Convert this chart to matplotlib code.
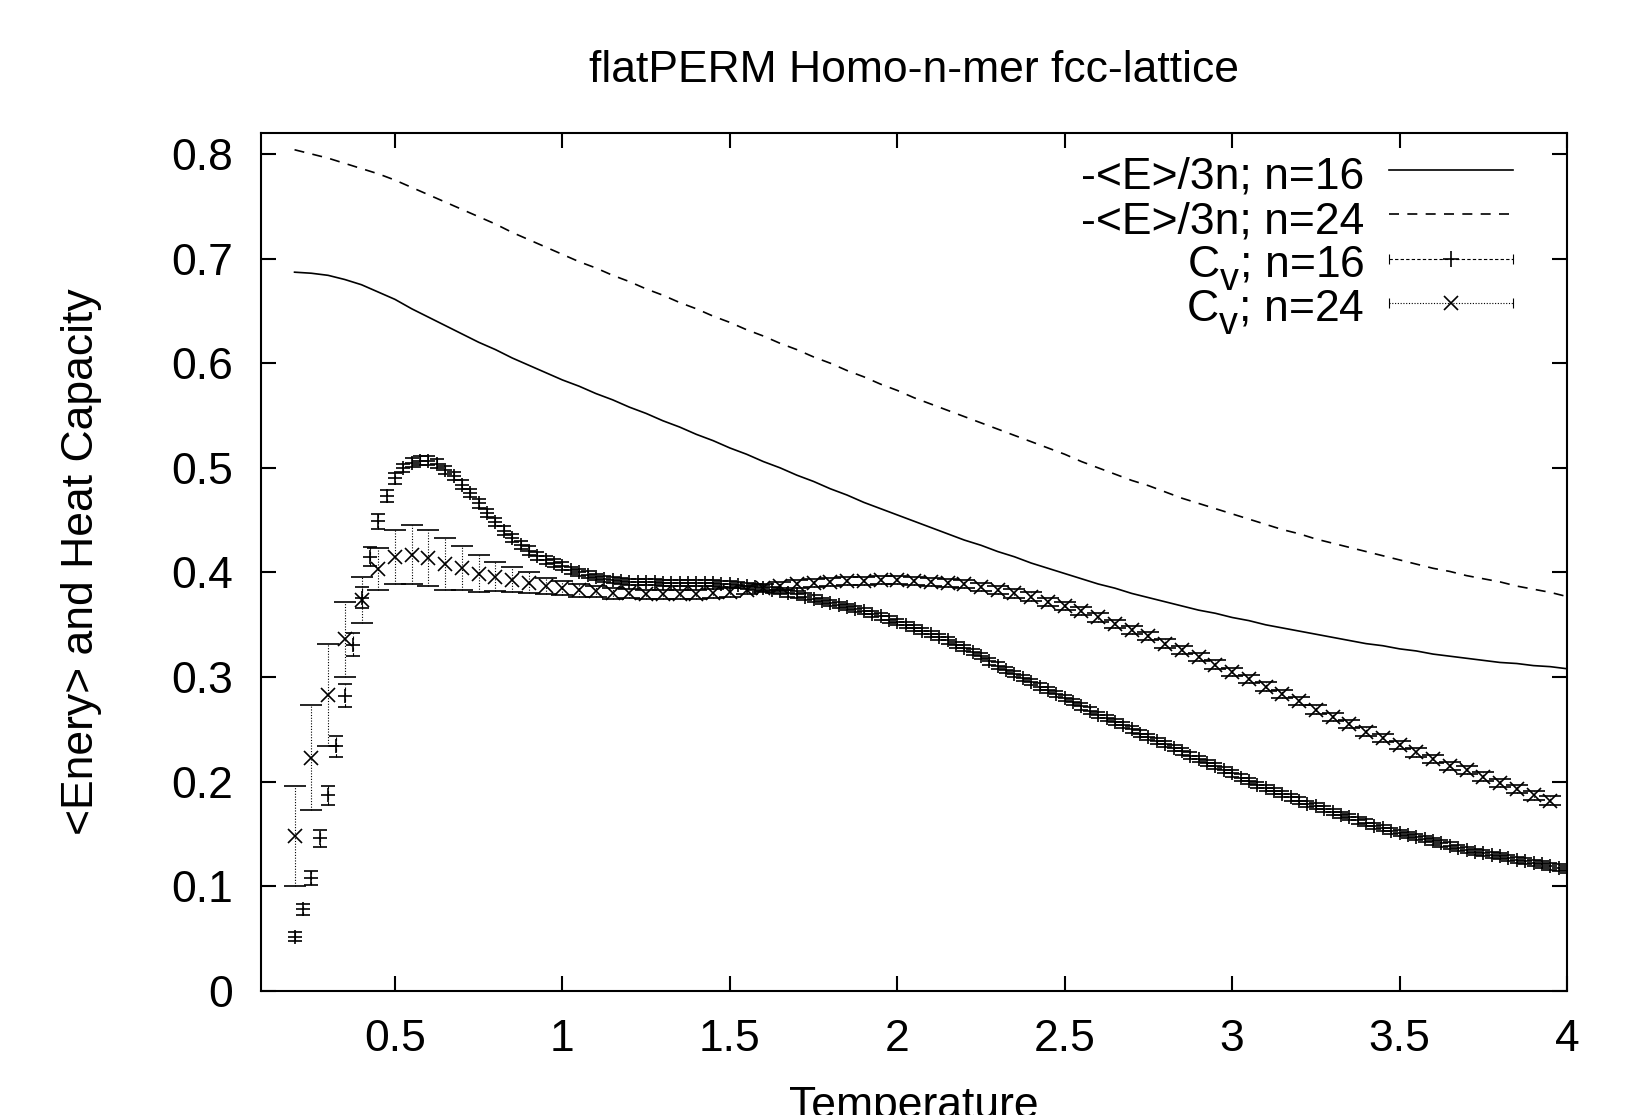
import numpy as np
import matplotlib
matplotlib.use("Agg")
import matplotlib.pyplot as plt
import matplotlib._mathtext as mathtext_internals
from matplotlib.lines import Line2D
from matplotlib.legend_handler import HandlerBase
from matplotlib.ticker import MultipleLocator, FormatStrFormatter

# temperature grids of the runs
temp_e = np.linspace(0.2, 4.0, 77)     # energy curves, step 0.05
temp16 = np.linspace(0.2, 4.0, 153)    # Cv n=16, step 0.025
temp24 = np.linspace(0.2, 3.95, 76)    # Cv n=24, step 0.05

# -<E>/3n
energy16 = [0.687, 0.686, 0.684, 0.680, 0.675, 0.668, 0.661, 0.652, 0.644, 0.636,
            0.628, 0.620, 0.613, 0.605, 0.598, 0.591, 0.584, 0.578, 0.571, 0.565,
            0.558, 0.552, 0.545, 0.539, 0.532, 0.526, 0.519, 0.513, 0.506, 0.500,
            0.493, 0.487, 0.480, 0.474, 0.467, 0.461, 0.455, 0.449, 0.443, 0.437,
            0.431, 0.426, 0.420, 0.415, 0.409, 0.404, 0.399, 0.394, 0.389, 0.385,
            0.380, 0.376, 0.372, 0.368, 0.364, 0.361, 0.357, 0.354, 0.350, 0.347,
            0.344, 0.341, 0.338, 0.335, 0.332, 0.330, 0.327, 0.325, 0.322, 0.320,
            0.318, 0.316, 0.314, 0.313, 0.311, 0.310, 0.308]
energy24 = [0.804, 0.800, 0.796, 0.791, 0.786, 0.781, 0.775, 0.768, 0.761, 0.754,
            0.747, 0.740, 0.733, 0.725, 0.718, 0.711, 0.704, 0.697, 0.691, 0.684,
            0.678, 0.671, 0.665, 0.658, 0.652, 0.645, 0.639, 0.632, 0.626, 0.619,
            0.613, 0.606, 0.600, 0.593, 0.587, 0.580, 0.574, 0.567, 0.561, 0.555,
            0.549, 0.543, 0.537, 0.531, 0.525, 0.519, 0.513, 0.506, 0.500, 0.494,
            0.488, 0.483, 0.477, 0.471, 0.466, 0.461, 0.456, 0.451, 0.446, 0.441,
            0.437, 0.432, 0.428, 0.424, 0.420, 0.416, 0.412, 0.408, 0.404, 0.401,
            0.397, 0.394, 0.391, 0.387, 0.384, 0.381, 0.377]

# heat capacity
cv16 = [0.052, 0.078, 0.108, 0.146, 0.187, 0.234, 0.282, 0.331, 0.376, 0.415,
        0.449, 0.473, 0.490, 0.500, 0.505, 0.507, 0.507, 0.504, 0.498, 0.492,
        0.484, 0.476, 0.466, 0.457, 0.448, 0.440, 0.433, 0.426, 0.421, 0.416,
        0.412, 0.409, 0.406, 0.402, 0.400, 0.398, 0.396, 0.394, 0.393, 0.392,
        0.391, 0.391, 0.391, 0.391, 0.390, 0.390, 0.390, 0.390, 0.390, 0.390,
        0.390, 0.389, 0.389, 0.388, 0.387, 0.386, 0.385, 0.383, 0.382, 0.380,
        0.379, 0.377, 0.375, 0.373, 0.371, 0.369, 0.367, 0.365, 0.363, 0.360,
        0.358, 0.355, 0.353, 0.350, 0.347, 0.344, 0.341, 0.338, 0.335, 0.331,
        0.328, 0.324, 0.320, 0.315, 0.311, 0.307, 0.303, 0.299, 0.295, 0.291,
        0.288, 0.284, 0.280, 0.276, 0.272, 0.268, 0.264, 0.261, 0.257, 0.254,
        0.250, 0.246, 0.243, 0.239, 0.236, 0.232, 0.229, 0.225, 0.222, 0.218,
        0.215, 0.211, 0.208, 0.204, 0.201, 0.197, 0.194, 0.191, 0.188, 0.185,
        0.182, 0.179, 0.177, 0.174, 0.171, 0.168, 0.166, 0.163, 0.161, 0.158,
        0.156, 0.153, 0.151, 0.149, 0.147, 0.145, 0.143, 0.141, 0.139, 0.137,
        0.135, 0.133, 0.132, 0.130, 0.129, 0.127, 0.125, 0.124, 0.122, 0.121,
        0.119, 0.118, 0.116]
cv16_err = [0.004, 0.005, 0.007, 0.008, 0.009, 0.010, 0.011, 0.011, 0.010, 0.009,
            0.007, 0.006, 0.005, 0.004, 0.004, 0.004, 0.004, 0.004, 0.004, 0.004,
            0.004, 0.004, 0.004, 0.004, 0.004, 0.004, 0.004, 0.004, 0.004, 0.004,
            0.004, 0.004, 0.004, 0.003, 0.003, 0.003, 0.003, 0.003, 0.003, 0.003,
            0.003, 0.003, 0.003, 0.003, 0.003, 0.003, 0.003, 0.003, 0.003, 0.003,
            0.003, 0.003, 0.003, 0.003, 0.003, 0.003, 0.003, 0.003, 0.003, 0.003,
            0.003, 0.003, 0.003, 0.003, 0.003, 0.003, 0.003, 0.003, 0.003, 0.003,
            0.003, 0.003, 0.003, 0.003, 0.003, 0.003, 0.003, 0.003, 0.003, 0.003,
            0.003, 0.003, 0.003, 0.003, 0.003, 0.003, 0.003, 0.003, 0.003, 0.003,
            0.003, 0.003, 0.003, 0.003, 0.003, 0.003, 0.003, 0.003, 0.003, 0.003,
            0.003, 0.003, 0.003, 0.003, 0.003, 0.003, 0.003, 0.003, 0.003, 0.003,
            0.003, 0.003, 0.003, 0.003, 0.003, 0.003, 0.003, 0.003, 0.003, 0.003,
            0.003, 0.003, 0.003, 0.003, 0.003, 0.003, 0.003, 0.003, 0.003, 0.003,
            0.003, 0.003, 0.003, 0.003, 0.003, 0.003, 0.003, 0.003, 0.003, 0.003,
            0.003, 0.003, 0.003, 0.003, 0.003, 0.003, 0.003, 0.003, 0.003, 0.003,
            0.003, 0.003, 0.003]
cv24 = [0.148, 0.223, 0.283, 0.336, 0.374, 0.403, 0.415, 0.417, 0.414, 0.408,
        0.404, 0.399, 0.396, 0.393, 0.390, 0.387, 0.385, 0.383, 0.382, 0.380,
        0.380, 0.379, 0.379, 0.379, 0.379, 0.380, 0.381, 0.383, 0.385, 0.387,
        0.389, 0.390, 0.391, 0.392, 0.392, 0.393, 0.393, 0.392, 0.391, 0.390,
        0.389, 0.386, 0.383, 0.380, 0.377, 0.372, 0.368, 0.363, 0.357, 0.351,
        0.345, 0.339, 0.332, 0.326, 0.319, 0.312, 0.305, 0.298, 0.291, 0.284,
        0.277, 0.269, 0.262, 0.255, 0.248, 0.242, 0.235, 0.228, 0.222, 0.215,
        0.211, 0.205, 0.199, 0.193, 0.187, 0.182]
cv24_err = [0.048, 0.050, 0.049, 0.036, 0.022, 0.020, 0.026, 0.028, 0.027, 0.025,
            0.021, 0.018, 0.014, 0.012, 0.010, 0.008, 0.007, 0.006, 0.005, 0.005,
            0.004, 0.004, 0.004, 0.004, 0.004, 0.004, 0.004, 0.004, 0.004, 0.004,
            0.004, 0.004, 0.004, 0.004, 0.004, 0.004, 0.004, 0.004, 0.004, 0.004,
            0.004, 0.004, 0.004, 0.004, 0.004, 0.004, 0.004, 0.004, 0.004, 0.004,
            0.004, 0.004, 0.004, 0.004, 0.004, 0.004, 0.004, 0.004, 0.004, 0.004,
            0.004, 0.004, 0.004, 0.004, 0.004, 0.004, 0.004, 0.004, 0.004, 0.004,
            0.004, 0.004, 0.004, 0.004, 0.004, 0.004]

labels = ['-<E>/3n; n=16', '-<E>/3n; n=24',
          r'C$_\mathrm{v}$; n=16', r'C$_\mathrm{v}$; n=24']

FS = 32

# gnuplot puts a bigger, lower subscript than mathtext does by default
mathtext_internals.SHRINK_FACTOR = 0.85
mathtext_internals.FontConstantsBase.sub1 = 0.58


class KeySample(HandlerBase):
    # gnuplot style key sample: styled line, optional point in the middle
    # and optional errorbar caps at the ends
    def __init__(self, dashes=None, lw=1.2, marker=None, ms=10, caps=False):
        super().__init__()
        self.dashes = dashes
        self.lw = lw
        self.marker = marker
        self.ms = ms
        self.caps = caps

    def create_artists(self, legend, orig_handle, xdescent, ydescent,
                       width, height, fontsize, trans):
        x0, x1 = -xdescent, width - xdescent
        y = 0.42 * fontsize  # same height above the text baseline on every row
        ls = '-' if self.dashes is None else (0, self.dashes)
        artists = [Line2D([x0, x1], [y, y], color='k', lw=self.lw, ls=ls)]
        if self.caps:
            artists.append(Line2D([x0, x1], [y, y], ls='none', marker='|',
                                  ms=7, mew=0.8, color='k'))
        if self.marker:
            artists.append(Line2D([(x0 + x1) / 2], [y], ls='none',
                                  marker=self.marker, ms=self.ms, mew=1.2,
                                  color='k'))
        for a in artists:
            a.set_transform(trans)
        return artists


def main():
    plt.rcParams['font.family'] = ['Liberation Sans', 'DejaVu Sans']
    plt.rcParams['mathtext.fontset'] = 'custom'
    plt.rcParams['mathtext.rm'] = 'Liberation Sans'

    fig = plt.figure(figsize=(16.46, 11.15), dpi=100)
    ax = fig.add_axes([0.1586, 0.1112, 0.7934, 0.7695])

    ax.plot(temp_e, energy16, color='k', lw=1.2)
    ax.plot(temp_e, energy24, color='k', lw=1.2, ls=(0, (6, 5)))

    eb16 = ax.errorbar(temp16, cv16, yerr=cv16_err, fmt='+', color='k', ms=10,
                       mew=1.2, elinewidth=0.8, capsize=5, capthick=0.8)
    eb16[2][0].set_linestyle((0, (3, 2)))
    eb24 = ax.errorbar(temp24, cv24, yerr=cv24_err, fmt='x', color='k', ms=10.5,
                       mew=1.2, elinewidth=0.8, capsize=8, capthick=0.8)
    eb24[2][0].set_linestyle((0, (1, 1.5)))

    ax.set_xlim(0.1, 4)
    ax.set_ylim(0, 0.82)
    ax.xaxis.set_major_locator(MultipleLocator(0.5))
    ax.yaxis.set_major_locator(MultipleLocator(0.1))
    ax.xaxis.set_major_formatter(FormatStrFormatter('%g'))
    ax.yaxis.set_major_formatter(FormatStrFormatter('%g'))
    ax.tick_params(direction='in', length=11, width=1.5, top=True, right=True,
                   labelsize=FS, pad=20)
    for sp in ax.spines.values():
        sp.set_linewidth(1.5)

    ax.set_title('flatPERM Homo-n-mer fcc-lattice', fontsize=FS, pad=37)
    ax.set_xlabel('Temperature', fontsize=FS)
    ax.xaxis.set_label_coords(0.5, -0.111)
    ax.set_ylabel('<Enery> and Heat Capacity', fontsize=FS)
    ax.yaxis.set_label_coords(-0.122, 0.5)

    # proxies; a tall handle box gives every key row the same height
    handles = [Line2D([], []) for _ in labels]
    samples = [KeySample(),
               KeySample(dashes=(6, 5)),
               KeySample(dashes=(3, 2), lw=0.8, marker='+', ms=12, caps=True),
               KeySample(dashes=(1, 1.5), lw=0.8, marker='x', ms=10, caps=True)]
    ax.legend(handles, labels, handler_map=dict(zip(handles, samples)),
              loc='upper right', bbox_to_anchor=(0.959, 1.007), frameon=False,
              markerfirst=False, fontsize=FS, handlelength=2.8,
              handleheight=3.0, handletextpad=0.55, labelspacing=-1.2,
              borderpad=0, borderaxespad=0)

    fig.savefig('out.png', dpi=100)


if __name__ == "__main__":
    main()
